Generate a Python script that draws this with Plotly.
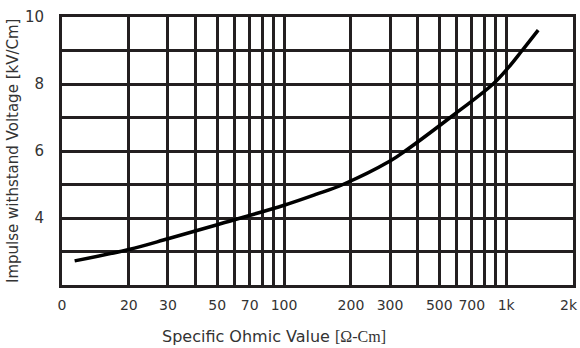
import math
import plotly.graph_objects as go

# Curve data (x: specific ohmic value, y: kV/Cm)
ohmic_values = [11.4, 20, 30, 50, 100, 140, 184, 300, 351, 560, 873, 1020, 1180, 1394]
withstand_kv = [2.72, 3.06, 3.38, 3.80, 4.38, 4.71, 5.0, 5.70, 6.0, 7.0, 8.0, 8.48, 9.0, 9.61]

x_tick_vals = [10, 20, 30, 40, 50, 60, 70, 80, 90, 100, 200, 300, 400, 500, 600, 700, 800, 900, 1000, 2000]
x_tick_text = ["0", "20", "30", "", "50", "", "70", "", "", "100", "200", "300", "", "500", "", "700", "", "", "1k", ""]
y_tick_vals = [2, 3, 4, 5, 6, 7, 8, 9, 10]
y_tick_text = ["", "", "4", "", "6", "", "8", "", "10"]
edge_label_value = 2000
edge_label_text = "2k"

x_title = "Specific Ohmic Value <span style='font-family:Liberation Serif'>[Ω-Cm]</span>"
y_title = "Impulse withstand Voltage [kV/Cm]"

grid_color = "#231f20"
text_color = "#333333"

fig = go.Figure()
fig.add_trace(go.Scatter(
    x=ohmic_values, y=withstand_kv, mode="lines",
    line=dict(color="#000000", width=3.5, shape="spline", smoothing=1.0),
    showlegend=False, hoverinfo="skip",
))

fig.update_layout(
    width=580, height=348,
    margin=dict(l=62, r=7, t=17, b=63),
    paper_bgcolor="white", plot_bgcolor="white",
    font=dict(family="DejaVu Sans", size=14, color=text_color),
    xaxis=dict(
        type="log", range=[1, 3.30103], automargin=False,
        tickmode="array", tickvals=x_tick_vals, ticktext=x_tick_text,
        showgrid=True, gridcolor=grid_color, gridwidth=3,
        showline=True, linecolor=grid_color, linewidth=3, mirror=True,
        ticks="", ticklabelstandoff=5, zeroline=False,
        tickfont=dict(size=14, color=text_color),
    ),
    yaxis=dict(
        range=[2, 10], automargin=False,
        tickmode="array", tickvals=y_tick_vals, ticktext=y_tick_text,
        showgrid=True, gridcolor=grid_color, gridwidth=3,
        showline=True, linecolor=grid_color, linewidth=3, mirror=True,
        ticks="", ticklabelstandoff=12, zeroline=False,
        tickfont=dict(size=15, color=text_color),
    ),
    annotations=[
        dict(text=edge_label_text, xref="x", yref="paper",
             x=math.log10(edge_label_value), y=0, xshift=-4, yshift=-20,
             xanchor="center", yanchor="middle", showarrow=False,
             font=dict(size=14, color=text_color)),
        dict(text=x_title, xref="paper", yref="paper", x=0.415, y=-0.194,
             xanchor="center", yanchor="middle", showarrow=False,
             font=dict(size=16, color=text_color)),
        dict(text=y_title, xref="paper", yref="paper", x=-0.096, y=0.5,
             xanchor="center", yanchor="middle", textangle=-90, showarrow=False,
             font=dict(size=15, color=text_color)),
    ],
)

fig.write_html("out.html", config={"displayModeBar": False},
               post_script="document.body.style.margin='0px';")
